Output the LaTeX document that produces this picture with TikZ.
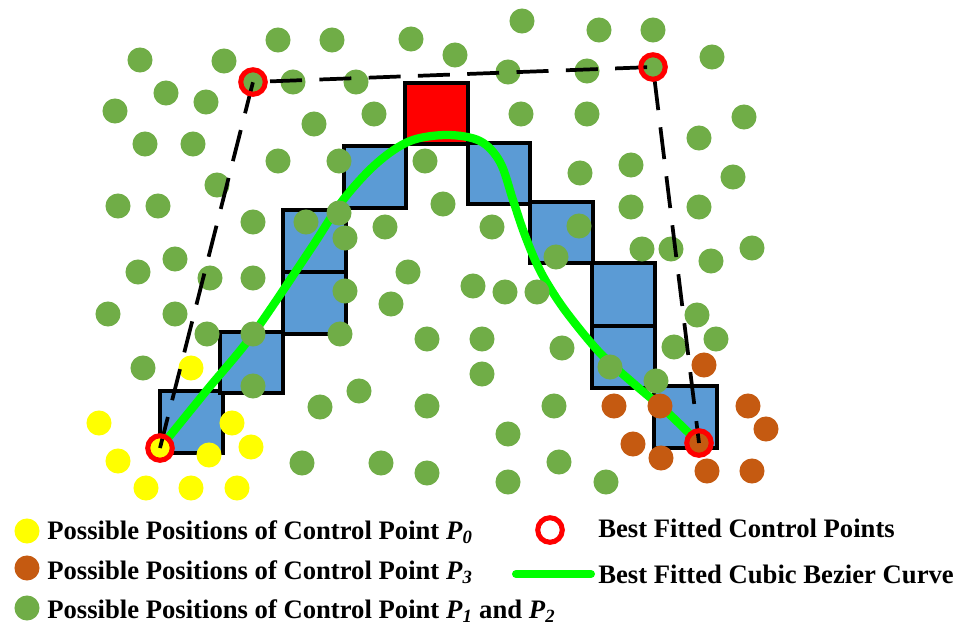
\documentclass[tikz,border=0pt]{standalone}
\usepackage{fontspec}
\setmainfont{Liberation Serif}
\definecolor{cellblue}{HTML}{5B9BD5}
\definecolor{dotgreen}{HTML}{70AD47}
\definecolor{dotorange}{HTML}{C55A11}
\definecolor{dotyellow}{HTML}{FFFF00}
\definecolor{curvegreen}{HTML}{00FF00}
\begin{document}
\begin{tikzpicture}[x=0.75pt,y=-0.75pt,
  cell/.style={draw=black,line width=2.8pt,fill=cellblue},
  topcell/.style={cell,fill=red},
  bezier/.style={curvegreen,line width=6.2pt,line cap=round},
  hull/.style={black,line width=2.8pt,dash pattern=on 24pt off 13pt},
  ring/.style={draw=red,line width=3.8pt},
  legtext/.style={anchor=base west,inner sep=0pt,font=\fontsize{20}{24}\selectfont\bfseries}]
\useasboundingbox (0,0) rectangle (961,626);

% control points of the fitted curve
\coordinate (P0) at (160,448);
\coordinate (P1) at (253,82);
\coordinate (P2) at (653,67);
\coordinate (P3) at (699,443);

% grid cells along the path
\draw[cell] (160,391) rectangle (223,453);
\draw[cell] (220,332) rectangle (283,393);
\draw[cell] (283,272) rectangle (346,334);
\draw[cell] (283,210) rectangle (346,272);
\draw[cell] (344,146) rectangle (406,208);
\draw[cell] (468,143) rectangle (530,204);
\draw[cell] (530,202) rectangle (593,263);
\draw[cell] (592,263) rectangle (655,326);
\draw[cell] (592,326) rectangle (655,388);
\draw[cell] (654,386) rectangle (717,448);
\draw[topcell] (405,83) rectangle (468,144);

% fitted cubic Bezier curve
\draw[bezier] plot[smooth,tension=0.55] coordinates {
  (160,448) (207,390) (253,334) (310,250) (343,200) (377,163) (410,141)
  (447,135) (480,141) (500,162) (513,200) (523,230) (535,260) (547,283)
  (567,313) (600,353) (633,383) (667,412) (699,443)};

% candidate positions for P1 and P2
\foreach \p in {(278,40),(332,40),(411,39),(140,60),(224,61),(253,82),(293,82),
  (356,82),(166,93),(206,102),(115,111),(374,114),(314,124),(145,144),(193,144),
  (278,161),(339,161),(425,161),(217,185),(118,206),(158,206),(253,222),(306,222),
  (339,213),(345,238),(385,227),(522,21),(599,30),(653,30),(455,55),(712,57),
  (508,72),(587,71),(653,67),(521,114),(587,114),(744,117),(699,138),(580,173),
  (631,165),(733,177),(443,204),(492,227),(579,226),(631,207),(699,207),(642,249),
  (671,249),(752,248),(556,257),(175,259),(138,272),(210,278),(253,278),(408,272),
  (345,291),(108,314),(175,314),(391,304),(207,334),(253,334),(340,334),(427,339),
  (143,368),(253,386),(359,391),(320,407),(427,406),(302,463),(381,463),(427,473),
  (711,261),(473,286),(505,292),(537,292),(482,339),(562,348),(697,315),(716,339),
  (674,347),(482,374),(610,367),(656,381),(554,406),(508,434),(508,482),(559,462),
  (606,482)}
  \fill[dotgreen] \p circle[radius=9.4pt];

% candidate positions for P0
\foreach \p in {(191,368),(99,423),(232,423),(251,447),(118,461),(209,455),
  (146,488),(191,488),(237,488),(160,448)}
  \fill[dotyellow] \p circle[radius=9.4pt];

% candidate positions for P3
\foreach \p in {(704,365),(614,406),(660,406),(748,406),(766,429),(633,444),
  (661,458),(699,443),(707,471),(752,471)}
  \fill[dotorange] \p circle[radius=9.4pt];

% control polygon
\draw[hull] (P0) -- (P1) -- (P2) -- (P3);

% best fitted control points
\foreach \q in {P0,P1,P2,P3}
  \draw[ring] (\q) circle[radius=9.2pt];

% legend
\fill[dotyellow] (27,531) circle[radius=9.4pt];
\fill[dotorange] (27,568) circle[radius=9.4pt];
\fill[dotgreen] (27,608) circle[radius=9.4pt];
\node[legtext] (l0) at (47,539) {Possible Positions of Control Point \textit{P}\textsubscript{\textit{0}}};
\node[legtext] (l3) at (47,579) {Possible Positions of Control Point \textit{P}\textsubscript{\textit{3}}};
\node[legtext] (l12) at (47,618) {Possible Positions of Control Point \textit{P}\textsubscript{\textit{1}} and \textit{P}\textsubscript{\textit{2}}};
\coordinate (rk) at (550,530);
\draw[ring] (rk) circle[radius=9.2pt];
\coordinate (ca) at (516,574);
\coordinate (cb) at (591,574);
\draw[curvegreen,line width=6pt,line cap=round] (ca) -- (cb);
\node[legtext] (lr) at (598,537) {Best Fitted Control Points};
\node[legtext] (lc) at (598,583) {Best Fitted Cubic Bezier Curve};
\end{tikzpicture}
\end{document}
